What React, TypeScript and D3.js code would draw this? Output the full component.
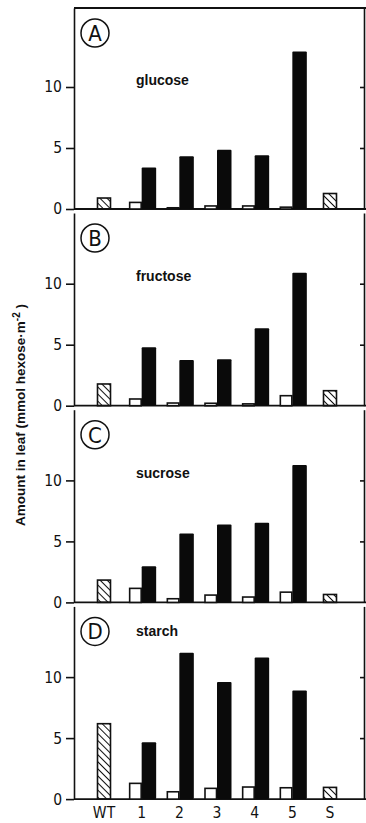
import React, { useEffect, useRef } from 'react';
import { select, scaleLinear, scalePoint, axisLeft, axisRight } from 'd3';

// categories on the x axis
const categories = ['WT', '1', '2', '3', '4', '5', 'S'];
const lines = ['1', '2', '3', '4', '5'];

// panels
const panelLetters = ['A', 'B', 'C', 'D'];
const panelNames = ['glucose', 'fructose', 'sucrose', 'starch'];

// controls (hatched bars), one value per panel
const wtValues = [0.9, 1.78, 1.83, 6.18];
const sValues = [1.27, 1.23, 0.65, 0.96];

// transformed lines 1-5: open and filled bars, per panel
const glucoseOpen = [0.54, 0.1, 0.25, 0.25, 0.15];
const glucoseFilled = [3.4, 4.33, 4.86, 4.4, 12.9];
const fructoseOpen = [0.55, 0.22, 0.2, 0.15, 0.82];
const fructoseFilled = [4.8, 3.75, 3.8, 6.35, 10.9];
const sucroseOpen = [1.15, 0.3, 0.6, 0.44, 0.84];
const sucroseFilled = [2.97, 5.64, 6.38, 6.52, 11.26];
const starchOpen = [1.29, 0.6, 0.88, 0.99, 0.93];
const starchFilled = [4.67, 12.0, 9.59, 11.6, 8.9];

const openValues = [glucoseOpen, fructoseOpen, sucroseOpen, starchOpen];
const filledValues = [glucoseFilled, fructoseFilled, sucroseFilled, starchFilled];

const yTicks = [0, 5, 10];
const yTitle = 'Amount in leaf (mmol hexose·m';

export default function App() {
    const ref = useRef<SVGSVGElement | null>(null);

    useEffect(() => {
        const width = 366;
        const height = 823;
        const left = 74;
        const right = 364;
        const pxPerUnit = 12.2;
        const firstBase = 209;
        const panelStep = 196.7;
        const tickFont = '"DejaVu Sans Condensed", "DejaVu Sans", sans-serif';
        const boldFont = '"Liberation Sans", Arial, sans-serif';

        const svg = select(ref.current!)
            .attr('width', width)
            .attr('height', height);
        svg.selectAll('*').remove();

        const defs = svg.append('defs');
        const pat = defs.append('pattern')
            .attr('id', 'hatch')
            .attr('patternUnits', 'userSpaceOnUse')
            .attr('width', 5)
            .attr('height', 5)
            .attr('patternTransform', 'rotate(-45)');
        pat.append('line')
            .attr('x1', 0).attr('y1', 0).attr('x2', 0).attr('y2', 5)
            .attr('stroke', '#111').attr('stroke-width', 2);

        const x = scalePoint<string>()
            .domain(categories)
            .range([104, 330]);

        panelLetters.forEach((letter, i) => {
            const base = firstBase + i * panelStep;
            const top = i === 0 ? 8 : firstBase + (i - 1) * panelStep + 4;
            const yMax = (base - top) / pxPerUnit;
            const y = scaleLinear().domain([0, yMax]).range([base, top]);

            const g = svg.append('g').attr('class', 'panel');

            // left axis
            const la = g.append('g')
                .attr('transform', `translate(${left},0)`)
                .call(axisLeft(y).tickValues(yTicks).tickSize(8).tickSizeOuter(0).tickPadding(4));
            la.attr('font-family', null).attr('font-size', null);
            la.select('.domain').attr('stroke', '#111').attr('stroke-width', 1.6);
            la.selectAll('.tick line').attr('stroke', '#111').attr('stroke-width', 1.6);
            la.selectAll('.tick text')
                .attr('font-family', tickFont)
                .attr('font-size', 15.5)
                .attr('fill', '#111');

            // right axis, ticks pointing inward
            const ra = g.append('g')
                .attr('transform', `translate(${right},0)`)
                .call(axisRight(y).tickValues([5, 10]).tickSize(-4).tickSizeOuter(0).tickFormat(() => ''));
            ra.select('.domain').attr('stroke', '#111').attr('stroke-width', 1.6);
            ra.selectAll('.tick line').attr('stroke', '#111').attr('stroke-width', 1.6);

            // baseline
            g.append('line')
                .attr('x1', left).attr('x2', right + 2)
                .attr('y1', y(0)).attr('y2', y(0))
                .attr('stroke', '#111').attr('stroke-width', 1.8);

            if (i === 0) {
                g.append('line')
                    .attr('x1', left).attr('x2', right + 2)
                    .attr('y1', top).attr('y2', top)
                    .attr('stroke', '#111').attr('stroke-width', 1.8);
            }

            // hatched control bars
            const controls = [
                { cat: 'WT', v: wtValues[i] },
                { cat: 'S', v: sValues[i] },
            ];
            g.selectAll('.ctrl').data(controls).join('rect')
                .attr('class', 'ctrl')
                .attr('x', (d) => x(d.cat)! - 6.5)
                .attr('y', (d) => y(d.v))
                .attr('width', 13)
                .attr('height', (d) => y(0) - y(d.v))
                .attr('fill', 'url(#hatch)')
                .attr('stroke', '#111')
                .attr('stroke-width', 1.6);

            // open bars
            g.selectAll('.open').data(openValues[i]).join('rect')
                .attr('class', 'open')
                .attr('x', (d, j) => x(lines[j])! - 12)
                .attr('y', (d) => y(d))
                .attr('width', 11.5)
                .attr('height', (d) => y(0) - y(d))
                .attr('fill', '#fff')
                .attr('stroke', '#111')
                .attr('stroke-width', 1.6);

            // filled bars
            g.selectAll('.filled').data(filledValues[i]).join('rect')
                .attr('class', 'filled')
                .attr('x', (d, j) => x(lines[j])!)
                .attr('y', (d) => y(d))
                .attr('width', 14.5)
                .attr('height', (d) => y(0) - y(d))
                .attr('rx', 1)
                .attr('fill', '#0a0a0a');

            // panel letter in circle
            const cy = top + 25;
            g.append('circle')
                .attr('cx', 95).attr('cy', cy).attr('r', 14)
                .attr('fill', 'none').attr('stroke', '#111').attr('stroke-width', 1.5);
            g.append('text')
                .attr('x', 95).attr('y', cy + 8)
                .attr('text-anchor', 'middle')
                .attr('font-family', tickFont)
                .attr('font-size', 22)
                .attr('fill', '#111')
                .text(letter);

            // sugar name
            const nameY = i === 3 ? cy + 5 : y(10.6) + 5;
            g.append('text')
                .attr('x', 136).attr('y', nameY)
                .attr('font-family', boldFont)
                .attr('font-weight', 'bold')
                .attr('font-size', 14)
                .attr('fill', '#111')
                .text(panelNames[i]);

            if (i === 3) {
                g.selectAll('.xlab').data(categories).join('text')
                    .attr('class', 'xlab')
                    .attr('x', (d) => x(d)!)
                    .attr('y', base + 19)
                    .attr('text-anchor', 'middle')
                    .attr('font-family', tickFont)
                    .attr('font-size', 15.5)
                    .attr('fill', '#111')
                    .text((d) => d);
            }
        });

        // y axis title
        const t = svg.append('text')
            .attr('transform', 'translate(25,415) rotate(-90)')
            .attr('text-anchor', 'middle')
            .attr('font-family', boldFont)
            .attr('font-weight', 'bold')
            .attr('font-size', 13.5)
            .attr('fill', '#111');
        t.append('tspan').text(yTitle);
        t.append('tspan').attr('dy', -5).attr('font-size', 10).text('-2');
        t.append('tspan').attr('dy', 5).text(' )');
    }, []);

    return (
        <svg ref={ref} style={{ position: 'absolute', left: 0, top: 0, background: '#fff' }} />
    );
}
